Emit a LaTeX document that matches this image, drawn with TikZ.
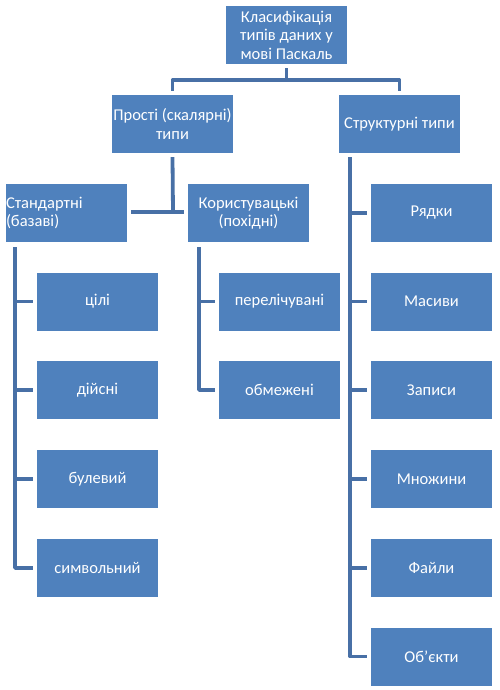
\documentclass[tikz,border=0pt]{standalone}
\usepackage{fontspec}
\setmainfont{Carlito}
\definecolor{boxblue}{RGB}{79,129,189}
\definecolor{lineblue}{RGB}{72,112,166}
\begin{document}
\begin{tikzpicture}[x=1pt,y=-1pt,
  box/.style={fill=boxblue,text=white,minimum width=121pt,minimum height=58pt,inner sep=0pt,align=center,font=\fontsize{16.5}{18.4}\selectfont},
  conn/.style={draw=lineblue,line width=3.8pt,line join=round,line cap=butt}]
\useasboundingbox (0,0) rectangle (500,690);
% nodes
\node[box] (root) at (286.5,35) {Класифікація\\типів даних у\\мові Паскаль};
\node[box] (prosti) at (172.5,124) {Прості (скалярні)\\типи};
\node[box] (strukt) at (399.5,124) {Структурні типи};
\node[box,text width=121pt,align=left] (stand) at (66.5,213) {Стандартні\\(базаві)};
\node[box] (koryst) at (248.5,213) {Користувацькі\\(похідні)};
\node[box] (cili) at (97.5,301.5) {цілі};
\node[box] (diysni) at (97.5,390) {дійсні};
\node[box] (bulev) at (97.5,479) {булевий};
\node[box] (symv) at (97.5,568) {символьний};
\node[box] (perel) at (279.5,301.5) {перелічувані};
\node[box] (obmez) at (279.5,390) {обмежені};
\node[box] (ryadky) at (431.5,213) {Рядки};
\node[box] (masyvy) at (431.5,301.5) {Масиви};
\node[box] (zapysy) at (431.5,390) {Записи};
\node[box] (mnozh) at (431.5,479) {Множини};
\node[box] (fayly) at (431.5,568) {Файли};
\node[box] (obyekty) at (431.5,656.5) {Об’єкти};
% top connectors
\coordinate (rj) at (286.5,80);
\draw[conn] ([yshift=-4pt]root.south) -- (rj);
\draw[conn] (rj) -| ([yshift=4pt]prosti.north);
\draw[conn] (rj) -| ([yshift=4pt]strukt.north);
% prosti connectors
\coordinate (pj) at (173,212);
\draw[conn] ([yshift=-4pt]prosti.south) -- (pj);
\draw[conn] ([xshift=4pt]stand.east |- pj) -- ([xshift=-4pt]koryst.west |- pj);
% standard children
\coordinate (sl) at (15,247);
\draw[conn] (sl) |- ([xshift=-4pt]symv.west);
\foreach \c in {cili,diysni,bulev}
  \draw[conn] (sl |- \c.west) -- ([xshift=-4pt]\c.west);
% user children
\coordinate (kl) at (199,247);
\draw[conn] (kl) |- ([xshift=-4pt]obmez.west);
\draw[conn] (kl |- perel.west) -- ([xshift=-4pt]perel.west);
% structured children
\coordinate (tl) at (350,157);
\draw[conn] (tl) |- ([xshift=-4pt]obyekty.west);
\foreach \c in {ryadky,masyvy,zapysy,mnozh,fayly}
  \draw[conn] (tl |- \c.west) -- ([xshift=-4pt]\c.west);
\end{tikzpicture}
\end{document}
